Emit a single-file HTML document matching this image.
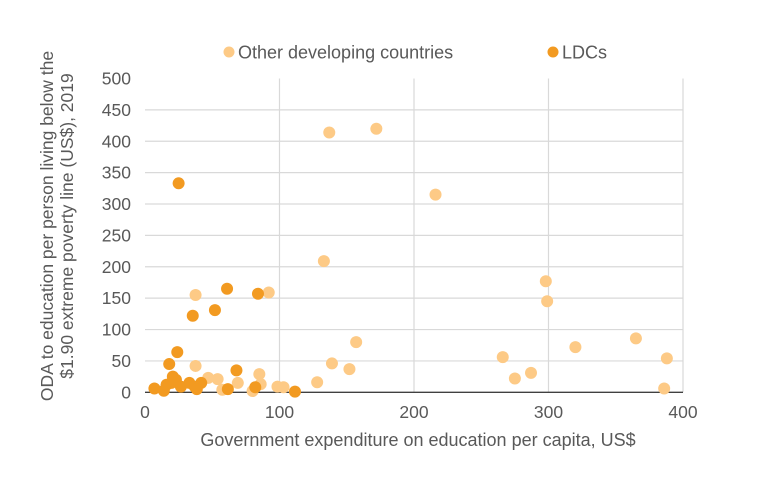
<!DOCTYPE html>
<html><head><meta charset="utf-8"><style>
body{margin:0;background:#fff;font-family:"Liberation Sans",sans-serif;}
svg text{font-family:"Liberation Sans",sans-serif;fill:#595959;}
</style></head><body>
<svg width="780" height="479">
<g id="grid"></g>
<g id="axes"></g>
<g id="pts"></g>
<g>
<circle cx="229" cy="52" r="5.5" fill="#fdca86"/>
<text x="238" y="58.5" font-size="18">Other developing countries</text>
<circle cx="553" cy="52" r="5.5" fill="#f29a21"/>
<text x="562" y="58.5" font-size="18">LDCs</text>
</g>
<text x="418" y="446" font-size="18" text-anchor="middle">Government expenditure on education per capita, US$</text>
<text transform="translate(53,226) rotate(-90)" font-size="17.5" text-anchor="middle"><tspan x="0" dy="0">ODA to education per person living below the</tspan><tspan x="0" dy="20">$1.90 extreme poverty line (US$), 2019</tspan></text>
</svg>
<script>
const xTicks=[0,100,200,300,400];
const yTicks=[0,50,100,150,200,250,300,350,400,450,500];
const otherX=[37.6,92,37.6,47,54,57.5,69,85,86,80,98.5,103,128,139,137,172,216,133,298,299,157,152,266,275,287,320,365,388,386];
const otherY=[155,159,42,23,21,4,15,29,13,2,9,8,16,46,414,420,315,209,177,145,80,37,56,22,31,72,86,54,6];
const ldcX=[61,84,35.5,52,24,18,68,7,14,16,20.7,23,19.6,26.7,33,37,41.8,38.5,61.6,82,111.5,25];
const ldcY=[165,157,122,131,64,45,35,6,2.5,12,25,20,15,9,15,9,15,5,5,8,1,333];
const L=145,R=683,T=78.5,B=392.3;
const sx=v=>L+(R-L)*v/400, sy=v=>B-(B-T)*v/500;
const NS='http://www.w3.org/2000/svg';
function mk(t,a,p){const e=document.createElementNS(NS,t);for(const k in a)e.setAttribute(k,a[k]);p.appendChild(e);return e;}
const g=document.getElementById('grid'),ax=document.getElementById('axes'),pg=document.getElementById('pts');
yTicks.forEach(v=>{if(v>0&&v<500){const l=mk('line',{x1:L,x2:R,y1:sy(v),y2:sy(v),stroke:'#d9d9d9','stroke-width':1.2},g);

}
const t=mk('text',{x:131,y:sy(v)+6,'font-size':17.5,'text-anchor':'end'},ax);t.textContent=v;

});
xTicks.forEach(v=>{if(v>0){const l=mk('line',{x1:sx(v),x2:sx(v),y1:T,y2:B,stroke:'#d9d9d9','stroke-width':1.2},g);

}
const t=mk('text',{x:sx(v),y:418,'font-size':17.5,'text-anchor':'middle'},ax);t.textContent=v;

});
const base=mk('line',{x1:L,x2:R,y1:B,y2:B,stroke:'#404040','stroke-width':1.3},ax);


otherX.forEach((x,i)=>{const c=mk('circle',{cx:sx(x),cy:sy(otherY[i]),r:6,fill:'#fdca86'},pg);

});
ldcX.forEach((x,i)=>{const c=mk('circle',{cx:sx(x),cy:sy(ldcY[i]),r:6,fill:'#f29a21'},pg);

});
</script>
</body></html>
